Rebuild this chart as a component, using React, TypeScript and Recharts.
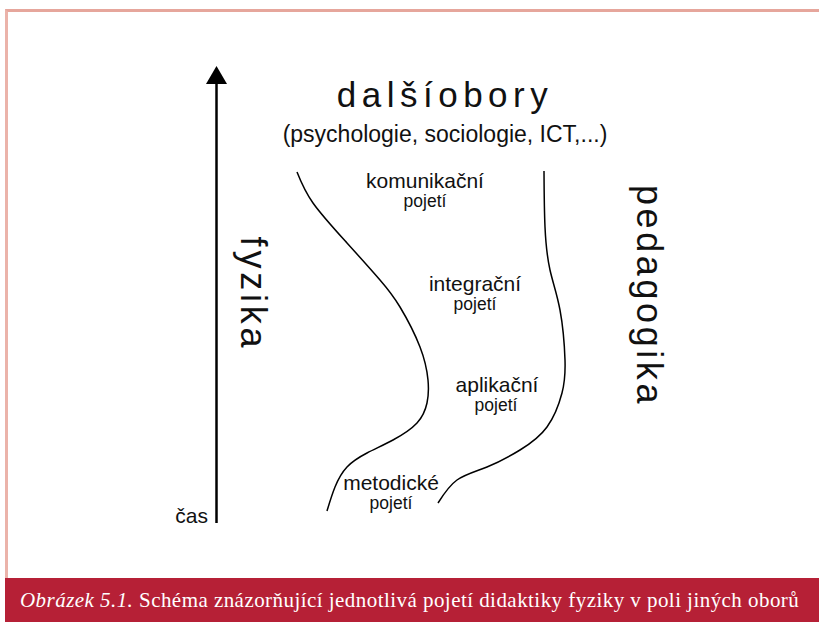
import { ComposedChart, Line, XAxis, YAxis, ReferenceLine, ReferenceDot } from "recharts";

// two boundary curves between the fields (x, y in picture units)
const physicsBoundary = [
    { x: 297, y: 172 }, { x: 313, y: 203 }, { x: 347, y: 243 }, { x: 380, y: 280 },
    { x: 400, y: 307 }, { x: 420, y: 347 }, { x: 428, y: 380 }, { x: 427, y: 403 },
    { x: 417, y: 423 }, { x: 393, y: 440 }, { x: 367, y: 453 }, { x: 347, y: 467 },
    { x: 335, y: 487 }, { x: 327, y: 511 }
];
const pedagogyBoundary = [
    { x: 544, y: 171 }, { x: 545, y: 227 }, { x: 550, y: 270 }, { x: 560, y: 310 },
    { x: 565, y: 360 }, { x: 562, y: 393 }, { x: 547, y: 427 }, { x: 520, y: 450 },
    { x: 487, y: 467 }, { x: 457, y: 480 }, { x: 438, y: 503 }
];

const approaches = ["komunikační", "integrační", "aplikační", "metodické"];
const approachWord = "pojetí";
const fields = ["fyzika", "pedagogika", "dalšíobory"];
const otherFields = "(psychologie, sociologie, ICT,...)";
const timeLabel = "čas";
const caption = ["Obrázek 5.1.", " Schéma znázorňující jednotlivá pojetí didaktiky fyziky v poli jiných oborů"];

const font = "'Liberation Sans', Arial, sans-serif";

const label = (text: string, size: number, extra: any = {}) => (props: any) => {
    const { rotate, spacing, anchor } = extra;
    return (
        <text
            x={props.cx}
            y={props.cy}
            fontSize={size}
            fontFamily={font}
            fill="#111"
            textAnchor={anchor || "middle"}
            letterSpacing={spacing || 0}
            transform={rotate ? `rotate(${rotate} ${props.cx} ${props.cy})` : undefined}
        >
            {text}
        </text>
    );
};

const arrowHead = (props: any) => (
    <polygon
        points={`${props.cx},${props.cy - 18} ${props.cx - 10.5},${props.cy} ${props.cx + 10.5},${props.cy}`}
        fill="#000"
    />
);

export default function App() {
    return (
        <div style={{ position: "absolute", left: 0, top: 0, width: 819, height: 622, background: "#fff", overflow: "hidden" }}>

            <div style={{
                position: "absolute", left: 5, top: 9, width: 814, height: 570,
                borderTop: "3px solid #e6a69c", borderLeft: "3px solid #ebb3aa", boxSizing: "border-box"
            }} />

            <ComposedChart
                width={819}
                height={622}
                margin={{ top: 0, right: 0, bottom: 0, left: 0 }}
                style={{ position: "absolute", left: 0, top: 0 }}
            >
                <XAxis type="number" dataKey="x" domain={[0, 819]} hide allowDataOverflow />
                <YAxis type="number" domain={[0, 622]} reversed hide allowDataOverflow />

                <ReferenceLine segment={[{ x: 216.5, y: 523 }, { x: 216.5, y: 83 }]} stroke="#000" strokeWidth={2.5} />
                <ReferenceDot x={216.5} y={84} r={0} shape={arrowHead} />

                <Line data={physicsBoundary} dataKey="y" type="natural" stroke="#000" strokeWidth={1.5}
                    dot={false} activeDot={false} legendType="none" isAnimationActive={false} />
                <Line data={pedagogyBoundary} dataKey="y" type="natural" stroke="#000" strokeWidth={1.5}
                    dot={false} activeDot={false} legendType="none" isAnimationActive={false} />

                <ReferenceDot x={445} y={107} r={0} shape={label(fields[2], 35, { spacing: 5.5 })} />
                <ReferenceDot x={445} y={142} r={0} shape={label(otherFields, 23)} />

                <ReferenceDot x={241} y={294} r={0} shape={label(fields[0], 36, { spacing: 3.8, rotate: 90 })} />
                <ReferenceDot x={637} y={296} r={0} shape={label(fields[1], 36, { spacing: 3.6, rotate: 90 })} />

                <ReferenceDot x={425} y={188} r={0} shape={label(approaches[0], 21)} />
                <ReferenceDot x={425} y={207} r={0} shape={label(approachWord, 17.5)} />
                <ReferenceDot x={475} y={291} r={0} shape={label(approaches[1], 21)} />
                <ReferenceDot x={475} y={310} r={0} shape={label(approachWord, 17.5)} />
                <ReferenceDot x={497} y={392} r={0} shape={label(approaches[2], 21)} />
                <ReferenceDot x={496} y={411} r={0} shape={label(approachWord, 17.5)} />
                <ReferenceDot x={391} y={490} r={0} shape={label(approaches[3], 21)} />
                <ReferenceDot x={391} y={509} r={0} shape={label(approachWord, 17.5)} />

                <ReferenceDot x={208} y={523} r={0} shape={label(timeLabel, 21, { anchor: "end" })} />
            </ComposedChart>

            <div style={{
                position: "absolute", left: 5, top: 578, width: 814, height: 44, background: "#b62036",
                color: "#fff", fontFamily: "'Liberation Serif', serif", fontSize: 21, letterSpacing: 0.45,
                lineHeight: "44px", paddingLeft: 15, boxSizing: "border-box", whiteSpace: "nowrap"
            }}>
                <i>{caption[0]}</i>{caption[1]}
            </div>
        </div>
    );
}
